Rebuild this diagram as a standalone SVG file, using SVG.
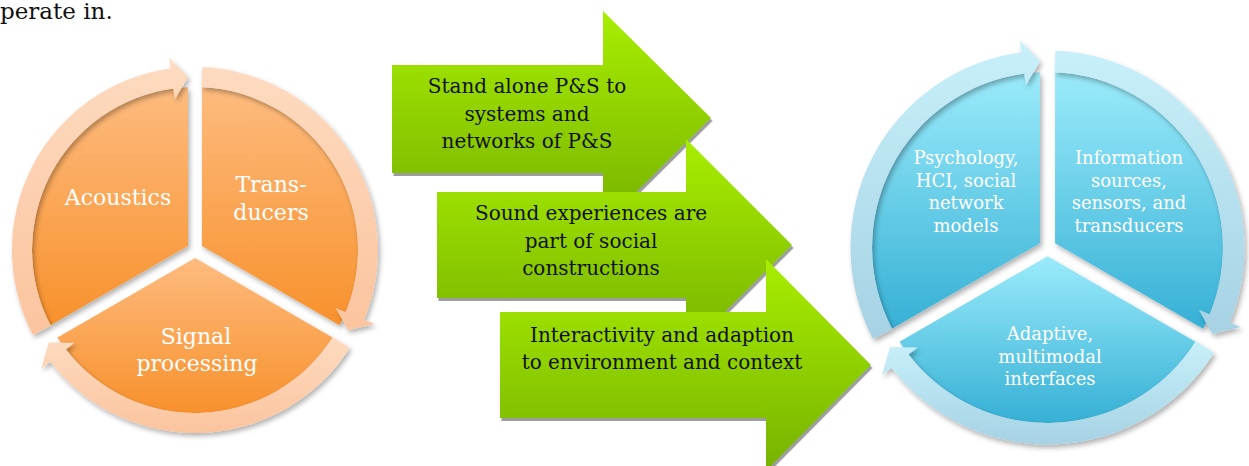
<svg xmlns="http://www.w3.org/2000/svg" width="1249" height="466" viewBox="0 0 1249 466">
  <style>
    .lbl { font-family: "DejaVu Serif", "Liberation Serif", serif; fill: #ffffff; text-anchor: middle; }
    .lbl-l { font-size: 22px; }
    .lbl-r { font-size: 18px; }
    .step { font-family: "DejaVu Serif", "Liberation Serif", serif; font-size: 20px; fill: #111111; text-anchor: middle; }
    .body { font-family: "DejaVu Serif", "Liberation Serif", serif; font-size: 23px; fill: #111111; }
  </style>
  <defs>
    <linearGradient id="pieOrange" x1="0" y1="0" x2="0" y2="1">
      <stop offset="0" stop-color="#FDBB7E"/>
      <stop offset="1" stop-color="#F8912C"/>
    </linearGradient>
    <linearGradient id="ringOrange" x1="0" y1="0" x2="0" y2="1">
      <stop offset="0" stop-color="#FDDBC0"/>
      <stop offset="1" stop-color="#FBC49E"/>
    </linearGradient>
    <linearGradient id="pieBlue" x1="0" y1="0" x2="0" y2="1">
      <stop offset="0" stop-color="#9BEBFB"/>
      <stop offset="1" stop-color="#36B0D5"/>
    </linearGradient>
    <linearGradient id="ringBlue" x1="0" y1="0" x2="0" y2="1">
      <stop offset="0" stop-color="#C8F0FA"/>
      <stop offset="1" stop-color="#A6D2E4"/>
    </linearGradient>
    <linearGradient id="green" x1="0" y1="0" x2="0" y2="1">
      <stop offset="0" stop-color="#A8EE00"/>
      <stop offset="1" stop-color="#76B200"/>
    </linearGradient>
    <filter id="soft" x="-20%" y="-20%" width="140%" height="140%">
      <feDropShadow dx="2" dy="3" stdDeviation="2.5" flood-color="#000000" flood-opacity="0.3"/>
    </filter>
    <filter id="hard" x="-10%" y="-10%" width="120%" height="120%">
      <feDropShadow dx="1.5" dy="3" stdDeviation="0.4" flood-color="#8c8c8c" flood-opacity="0.85"/>
    </filter>

    <!-- one cycle: three pie sectors with gaps, and a ring of three curved arrows; centred at 0,0 -->
    <path id="sectorA" d="M-7,-4.04 L-144.54,75.36 A163,163 0 0 1 -7,-162.85 Z"/>
    <path id="sectorB" d="M7,-4.04 L7,-162.85 A163,163 0 0 1 144.54,75.36 Z"/>
    <path id="sectorC" d="M0,8.08 L137.53,87.5 A163,163 0 0 1 -137.53,87.5 Z"/>
    <path id="arcA" d="M-162.08,85.02 A183,183 0 0 1 -24.26,-181.38 L-25.72,-192.29 L-7,-172.86 L-20.15,-150.66 L-21.61,-161.56 A163,163 0 0 0 -144.36,75.73 Z"/>
    <path id="arcB" d="M7.41,-182.88 A183,183 0 0 1 169.21,69.68 L179.39,73.88 L153.2,80.37 L140.56,57.88 L150.73,62.07 A163,163 0 0 0 6.6,-162.89 Z"/>
    <path id="arcC" d="M154.67,97.86 A183,183 0 0 1 -144.95,111.7 L-153.67,118.42 L-146.2,92.49 L-120.4,92.78 L-129.11,99.49 A163,163 0 0 0 137.76,87.15 Z"/>
  </defs>

  <rect width="1249" height="466" fill="#ffffff"/>

  <text class="body" x="0" y="18.5">perate in.</text>

  <!-- left cycle: acoustics / transducers / signal processing -->
  <g id="cycle-left" transform="translate(195,250)">
    <g id="acoustics">
      <use href="#sectorA" fill="url(#pieOrange)" filter="url(#soft)"/>
    </g>
    <g id="transducers">
      <use href="#sectorB" fill="url(#pieOrange)" filter="url(#soft)"/>
    </g>
    <g id="signal-processing">
      <use href="#sectorC" fill="url(#pieOrange)" filter="url(#soft)"/>
    </g>
  </g>

  <!-- right cycle: psychology / information sources / interfaces -->
  <g id="cycle-right" transform="translate(1047.5,247.5) scale(1.0765)">
    <g id="psychology">
      <use href="#sectorA" fill="url(#pieBlue)" filter="url(#soft)"/>
    </g>
    <g id="information-sources">
      <use href="#sectorB" fill="url(#pieBlue)" filter="url(#soft)"/>
    </g>
    <g id="adaptive-interfaces">
      <use href="#sectorC" fill="url(#pieBlue)" filter="url(#soft)"/>
    </g>
  </g>

  <!-- curved cycle arrows around each pie -->
  <g id="connectors">
    <g transform="translate(195,250)">
      <use href="#arcA" fill="url(#ringOrange)" filter="url(#soft)"/>
      <use href="#arcB" fill="url(#ringOrange)" filter="url(#soft)"/>
      <use href="#arcC" fill="url(#ringOrange)" filter="url(#soft)"/>
    </g>
    <g transform="translate(1047.5,247.5) scale(1.0765)">
      <use href="#arcA" fill="url(#ringBlue)" filter="url(#soft)"/>
      <use href="#arcB" fill="url(#ringBlue)" filter="url(#soft)"/>
      <use href="#arcC" fill="url(#ringBlue)" filter="url(#soft)"/>
    </g>
  </g>

  <!-- cycle labels -->
  <g id="labels-left" class="lbl lbl-l">
    <text x="118" y="205">Acoustics</text>
    <text x="271" y="192">Trans-</text>
    <text x="271" y="220">ducers</text>
    <text x="196" y="344">Signal</text>
    <text x="197" y="371">processing</text>
  </g>
  <g id="labels-right" class="lbl lbl-r">
    <text x="966" y="164">Psychology,</text>
    <text x="966" y="186.5">HCI, social</text>
    <text x="966" y="209">network</text>
    <text x="966" y="231.5">models</text>
    <text x="1129" y="164">Information</text>
    <text x="1129" y="186.5">sources,</text>
    <text x="1129" y="209">sensors, and</text>
    <text x="1129" y="231.5">transducers</text>
    <text x="1050" y="340">Adaptive,</text>
    <text x="1050" y="362.5">multimodal</text>
    <text x="1050" y="385">interfaces</text>
  </g>

  <!-- three block arrows, each drawn over the previous one -->
  <g id="step-1">
    <path d="M392,65 H603 V11 L711,118 L603,225 V173 H392 Z" fill="url(#green)" filter="url(#hard)"/>
    <text class="step" x="527" y="93">Stand alone P&amp;S to</text>
    <text class="step" x="527" y="120.5">systems and</text>
    <text class="step" x="527" y="148">networks of P&amp;S</text>
  </g>
  <g id="step-2">
    <path d="M437,192 H686 V139 L792,245 L686,351 V298 H437 Z" fill="url(#green)" filter="url(#hard)"/>
    <text class="step" x="591" y="220">Sound experiences are</text>
    <text class="step" x="591" y="247.5">part of social</text>
    <text class="step" x="591" y="275">constructions</text>
  </g>
  <g id="step-3">
    <path d="M500,312 H766 V259 L871,365 L766,471 V418 H500 Z" fill="url(#green)" filter="url(#hard)"/>
    <text class="step" x="662" y="342">Interactivity and adaption</text>
    <text class="step" x="662" y="369">to environment and context</text>
  </g>
</svg>
